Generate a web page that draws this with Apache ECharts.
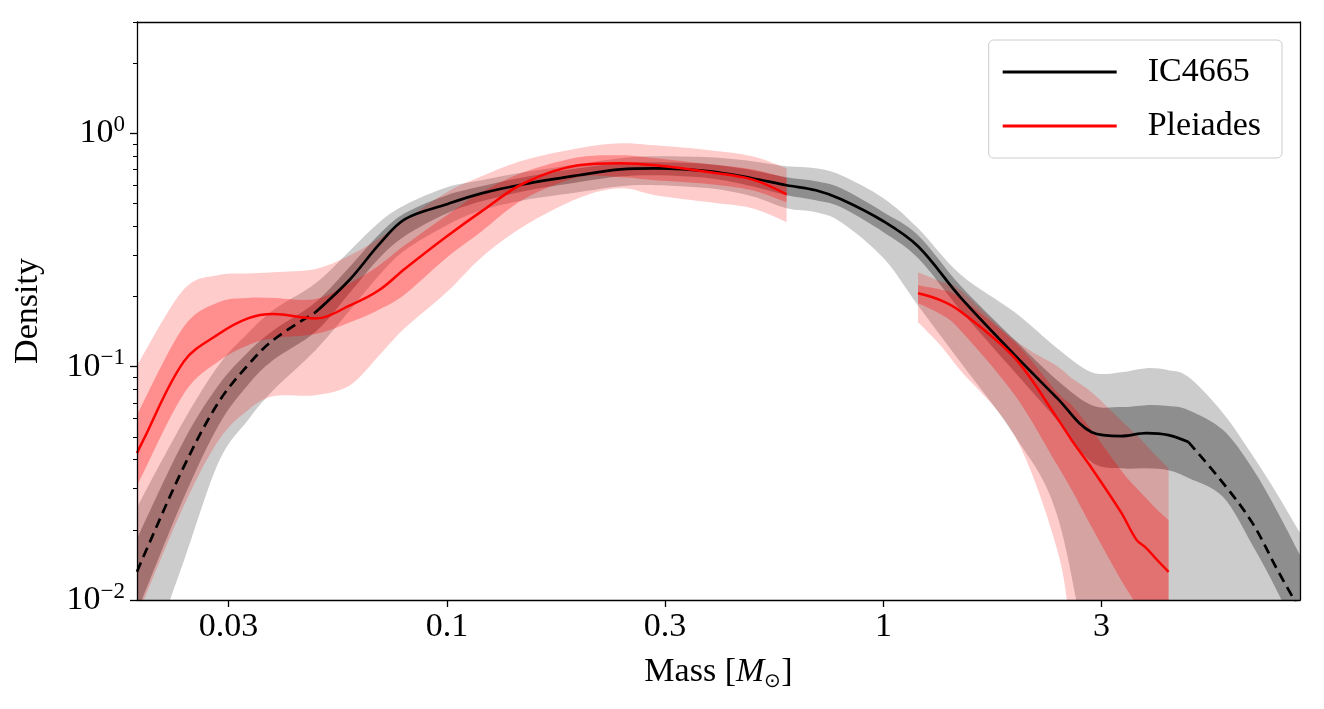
<!DOCTYPE html>
<html>
<head>
<meta charset="utf-8">
<script src="https://cdn.jsdelivr.net/npm/echarts@6/dist/echarts.min.js"></script>
<style>
  html, body { margin: 0; padding: 0; background: #fff; }
  #chart { width: 1324px; height: 709px; }
</style>
</head>
<body>
<div id="chart"></div>
<script>
// axis ranges and ticks
const X_MIN = 0.0195
const X_MAX = 9
const Y_MIN = 0.01
const Y_MAX = 3
const xTickValues = [0.0316, 0.1, 0.316, 1, 3.16]
const xTickLabels = ['0.03', '0.1', '0.3', '1', '3']
const yTickValues = [0.01, 0.1, 1]
const yTickExponents = ['−2', '−1', '0']
const yMinorTicks = [0.02, 0.03, 0.04, 0.05, 0.06, 0.07, 0.08, 0.09,
  0.2, 0.3, 0.4, 0.5, 0.6, 0.7, 0.8, 0.9, 2, 3]

// IC4665: median + inner / outer bands
const icMass = [0.0195, 0.02, 0.025, 0.03, 0.035, 0.04, 0.05, 0.06, 0.07, 0.08, 0.1, 0.12, 0.15, 0.2, 0.25,
  0.3, 0.4, 0.5, 0.6, 0.7, 0.8, 1.0, 1.2, 1.5, 2.0, 2.5, 3.0, 3.5, 4.0, 4.5, 5, 6, 7, 8, 9]
const icMedian = [0.0132, 0.0148, 0.0375, 0.0705, 0.1015, 0.130, 0.171, 0.237, 0.335, 0.428, 0.497, 0.553, 0.605, 0.661, 0.701,
  0.708, 0.688, 0.642, 0.599, 0.570, 0.522, 0.420, 0.328, 0.1986, 0.112, 0.0733, 0.0524, 0.0504, 0.0519, 0.0509, 0.0475, 0.0317, 0.0214, 0.0134, 0.00906]
const icInnerLo = [0.00906, 0.0100, 0.0276, 0.0561, 0.0834, 0.1067, 0.141, 0.208, 0.292, 0.362, 0.454, 0.511, 0.565, 0.617, 0.654,
  0.661, 0.642, 0.593, 0.543, 0.517, 0.482, 0.377, 0.292, 0.175, 0.0947, 0.0590, 0.0390, 0.0367, 0.0367, 0.0360, 0.0333, 0.0276, 0.0172, 0.0108, 0.00674]
const icInnerHi = [0.0181, 0.0203, 0.0484, 0.0834, 0.1153, 0.143, 0.189, 0.269, 0.369, 0.454, 0.543, 0.593, 0.648, 0.708, 0.744,
  0.751, 0.737, 0.695, 0.648, 0.623, 0.581, 0.459, 0.366, 0.223, 0.130, 0.0875, 0.0684, 0.0671, 0.0684, 0.0678, 0.0651, 0.0535, 0.0367, 0.0238, 0.0156]
const icOuterLo = [0.00373, 0.00454, 0.0148, 0.0390, 0.0590, 0.0793, 0.1177, 0.175, 0.247, 0.315, 0.404, 0.468, 0.517, 0.559, 0.593,
  0.599, 0.581, 0.537, 0.477, 0.459, 0.416, 0.292, 0.183, 0.1046, 0.0504, 0.0231, 0.00454, 0.00139, 0.0005, 0.0003, 0.0002, 0.0001, 0.0001, 0.0001, 0.0001]
const icOuterHi = [0.0243, 0.0273, 0.0590, 0.1015, 0.139, 0.175, 0.228, 0.315, 0.416, 0.492, 0.587, 0.629, 0.681, 0.737, 0.782,
  0.797, 0.789, 0.759, 0.722, 0.708, 0.661, 0.527, 0.392, 0.249, 0.171, 0.120, 0.0947, 0.0947, 0.0985, 0.0966, 0.0902, 0.0632, 0.0418, 0.0282, 0.0194]
// IC4665 line is dashed outside this mass range
const icSolidFrom = 0.05
const icSolidTo = 5

// Pleiades, low-mass part
const plMassA = [0.0195, 0.02, 0.025, 0.03, 0.035, 0.04, 0.05, 0.06, 0.07, 0.08, 0.1, 0.12, 0.15, 0.2, 0.25, 0.3, 0.4, 0.5, 0.6]
const plMedianA = [0.0426, 0.0470, 0.1056, 0.138, 0.161, 0.168, 0.161, 0.183, 0.213, 0.262, 0.362, 0.463, 0.611, 0.729, 0.744, 0.729, 0.681, 0.635, 0.548]
const plInnerLoA = [0.0305, 0.0340, 0.0770, 0.1056, 0.1236, 0.1325, 0.138, 0.155, 0.176, 0.204, 0.294, 0.380, 0.522, 0.648, 0.648, 0.629, 0.605, 0.570, 0.506]
const plInnerHiA = [0.0608, 0.0684, 0.149, 0.189, 0.197, 0.197, 0.195, 0.228, 0.272, 0.331, 0.446, 0.559, 0.681, 0.789, 0.805, 0.782, 0.737, 0.701, 0.642]
const plOuterLoA = [0.0082, 0.0095, 0.0255, 0.0484, 0.0651, 0.0747, 0.0755, 0.0833, 0.112, 0.146, 0.209, 0.294, 0.400, 0.527, 0.581, 0.543, 0.506, 0.477, 0.416]
const plOuterHiA = [0.0995, 0.1098, 0.215, 0.247, 0.251, 0.254, 0.262, 0.300, 0.355, 0.424, 0.559, 0.654, 0.766, 0.863, 0.906, 0.888, 0.846, 0.797, 0.708]

// Pleiades, high-mass part
const plMassB = [1.2, 1.35, 1.5, 2.0, 2.5, 2.7, 3.0, 3.5, 3.8, 4.0, 4.2, 4.5]
const plMedianB = [0.2064, 0.193, 0.1729, 0.1087, 0.0602, 0.0484, 0.0367, 0.0238, 0.0181, 0.0167, 0.0151, 0.0132]
const plInnerLoB = [0.1870, 0.168, 0.1433, 0.0755, 0.0379, 0.0296, 0.0205, 0.0122, 0.0095, 0.0078, 0.0067, 0.0055]
const plInnerHiB = [0.2234, 0.214, 0.197, 0.1273, 0.0777, 0.0684, 0.0535, 0.0360, 0.0302, 0.0273, 0.0248, 0.0220]
const plOuterLoB = [0.155, 0.1236, 0.0966, 0.0504, 0.0164, 0.0067, 0.0014, 0.0005, 0.0003, 0.0002, 0.0002, 0.0002]
const plOuterHiB = [0.254, 0.232, 0.213, 0.130, 0.1005, 0.0893, 0.0777, 0.0590, 0.0509, 0.0461, 0.0418, 0.0367]

const FONT = 'Liberation Serif'
const FS = 34

const pairs = (xs, ys) => xs.map((x, i) => [x, ys[i]])

// catmull-rom through already projected pixel points -> cubic segments
const smoothSegs = (pts) => {
  let d = ''
  for (let i = 0; i < pts.length - 1; i++) {
    const p0 = pts[i - 1] || pts[i]
    const p1 = pts[i]
    const p2 = pts[i + 1]
    const p3 = pts[i + 2] || p2
    const c1x = p1[0] + (p2[0] - p0[0]) / 6
    const c1y = p1[1] + (p2[1] - p0[1]) / 6
    const c2x = p2[0] - (p3[0] - p1[0]) / 6
    const c2y = p2[1] - (p3[1] - p1[1]) / 6
    d += ` C${c1x.toFixed(2)},${c1y.toFixed(2)} ${c2x.toFixed(2)},${c2y.toFixed(2)} ${p2[0].toFixed(2)},${p2[1].toFixed(2)}`
  }
  return d
}

// shaded band drawn as one closed path through the axes' coord mapping
const band = (xs, lo, hi, color) => ({
  type: 'custom',
  silent: true,
  clip: true,
  z: 1,
  data: xs.map((x, i) => [x, lo[i], hi[i]]),
  encode: { x: 0, y: [1, 2] },
  renderItem: (params, api) => {
    if (params.dataIndex !== 0) return null
    const top = xs.map((x, i) => api.coord([x, hi[i]]))
    const bottom = xs.map((x, i) => api.coord([x, lo[i]])).reverse()
    const d = `M${top[0][0]},${top[0][1]}` + smoothSegs(top) +
      ` L${bottom[0][0]},${bottom[0][1]}` + smoothSegs(bottom) + ' Z'
    return { type: 'path', shape: { pathData: d }, style: { fill: color } }
  },
})

const curve = (name, data, color, width, type = 'solid') => ({
  type: 'line', name, data, symbol: 'none', silent: true, z: 3, smooth: 0.35,
  itemStyle: { color },
  lineStyle: { color, width, type },
})

const icPts = pairs(icMass, icMedian)

const series = [
  band(icMass, icOuterLo, icOuterHi, 'rgba(0,0,0,0.2)'),
  band(icMass, icInnerLo, icInnerHi, 'rgba(0,0,0,0.3)'),
  band(plMassA, plOuterLoA, plOuterHiA, 'rgba(255,0,0,0.2)'),
  band(plMassA, plInnerLoA, plInnerHiA, 'rgba(255,0,0,0.3)'),
  band(plMassB, plOuterLoB, plOuterHiB, 'rgba(255,0,0,0.2)'),
  band(plMassB, plInnerLoB, plInnerHiB, 'rgba(255,0,0,0.3)'),
  curve('IC4665', icPts.filter(([m]) => m >= icSolidFrom && m <= icSolidTo), '#000', 2.7),
  curve('IC4665 low', icPts.filter(([m]) => m <= icSolidFrom), '#000', 2.7, [10, 6]),
  curve('IC4665 high', icPts.filter(([m]) => m >= icSolidTo), '#000', 2.7, [10, 6]),
  curve('Pleiades', pairs(plMassA, plMedianA), '#ff0000', 2.5),
  curve('Pleiades', pairs(plMassB, plMedianB), '#ff0000', 2.5),
]

const frame = { show: true, lineStyle: { color: '#000', width: 1.3 } }
const noTick = { show: false }
const noLabel = { show: false }
const noSplit = { show: false }

const option = {
  animation: false,
  backgroundColor: '#fff',
  grid: { left: 137, right: 24, top: 22, bottom: 109, outerBoundsMode: 'none' },
  legend: {
    data: ['IC4665', 'Pleiades'],
    orient: 'vertical',
    right: 42,
    top: 40,
    icon: 'rect',
    itemWidth: 114,
    itemHeight: 3,
    itemGap: 20,
    padding: [15, 21, 15, 14],
    backgroundColor: 'rgba(255,255,255,0.8)',
    borderColor: '#cccccc',
    borderWidth: 1,
    borderRadius: 5,
    selectedMode: false,
    textStyle: { fontFamily: FONT, fontSize: FS, lineHeight: 34, color: '#000', padding: [0, 0, 0, 26] },
  },
  xAxis: [
    {
      type: 'log', min: X_MIN, max: X_MAX, position: 'bottom', z: 10,
      axisLine: frame,
      axisTick: { customValues: xTickValues, length: 7, lineStyle: { color: '#000', width: 1.3 } },
      axisLabel: {
        customValues: xTickValues, margin: 10,
        fontFamily: FONT, fontSize: FS, color: '#000',
        formatter: (v) => {
          const i = xTickValues.findIndex(t => Math.abs(Math.log10(t) - Math.log10(v)) < 0.01)
          return i >= 0 ? xTickLabels[i] : ''
        },
      },
      minorTick: noTick, splitLine: noSplit,
      name: 'Mass [{it|M}{sub|⊙}]',
      nameLocation: 'middle',
      nameGap: 52,
      nameTextStyle: {
        fontFamily: FONT, fontSize: FS, color: '#000', lineHeight: 40,
        rich: {
          it: { fontFamily: FONT, fontSize: FS, fontStyle: 'italic', color: '#000', lineHeight: 40 },
          sub: { fontFamily: FONT, fontSize: 20, color: '#000', lineHeight: 20, verticalAlign: 'bottom' },
        },
      },
    },
    {
      type: 'log', min: X_MIN, max: X_MAX, position: 'top', z: 10,
      axisLine: frame, axisTick: noTick, axisLabel: noLabel, splitLine: noSplit,
    },
  ],
  yAxis: [
    {
      type: 'log', min: Y_MIN, max: Y_MAX, position: 'left', z: 10,
      axisLine: frame,
      axisTick: { customValues: yTickValues, length: 7, lineStyle: { color: '#000', width: 1.3 } },
      axisLabel: {
        customValues: yTickValues, margin: 12,
        formatter: (v) => {
          const i = yTickValues.findIndex(t => Math.abs(Math.log10(t) - Math.log10(v)) < 0.01)
          return '{b|10}{s|' + (i >= 0 ? yTickExponents[i] : '') + '}'
        },
        rich: {
          b: { fontFamily: FONT, fontSize: FS, color: '#000', lineHeight: 40 },
          s: { fontFamily: FONT, fontSize: 23, color: '#000', lineHeight: 23, verticalAlign: 'top' },
        },
      },
      minorTick: noTick, splitLine: noSplit,
      name: 'Density',
      nameLocation: 'middle',
      nameGap: 92,
      nameTextStyle: { fontFamily: FONT, fontSize: FS, color: '#000' },
    },
    {
      type: 'log', min: Y_MIN, max: Y_MAX, position: 'left', z: 10,
      axisLine: { show: false },
      axisTick: { customValues: yMinorTicks, length: 4, lineStyle: { color: '#000', width: 1 } },
      axisLabel: noLabel, splitLine: noSplit,
    },
    {
      type: 'log', min: Y_MIN, max: Y_MAX, position: 'right', z: 10,
      axisLine: frame, axisTick: noTick, axisLabel: noLabel, splitLine: noSplit,
    },
  ],
  series,
}

const chart = echarts.init(document.getElementById('chart'), null, { renderer: 'canvas' })
chart.setOption(option)
</script>
</body>
</html>
